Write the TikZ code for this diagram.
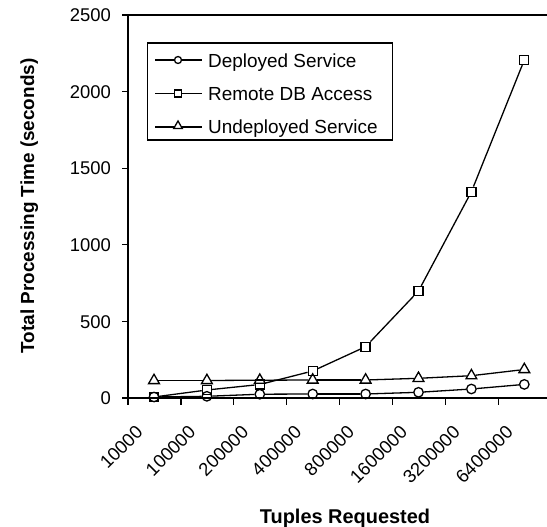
\documentclass[tikz,border=0pt]{standalone}
\usepackage{fontspec}
\setmainfont{Liberation Sans}
\usetikzlibrary{shapes.geometric}
\begin{document}
\begin{tikzpicture}[x=1bp,y=-1bp,
  lw/.style={line width=1.3bp},
  mcirc/.style={draw, circle, lw, inner sep=0pt, minimum size=9.5bp},
  msq/.style={draw, rectangle, lw, inner sep=0pt, minimum size=9bp},
  mtri/.style={draw, regular polygon, regular polygon sides=3, lw, inner sep=0pt, minimum size=12.5bp},
  lcirc/.style={mcirc, minimum size=7bp},
  lsq/.style={msq, minimum size=7bp},
  ltri/.style={mtri, minimum size=10bp},
  ticklab/.style={font=\fontsize{18.5}{20}\selectfont, inner sep=0pt},
  ttl/.style={font=\fontsize{20}{22}\selectfont\bfseries, inner sep=0pt},
  legtext/.style={font=\fontsize{19}{21}\selectfont, inner sep=0pt, anchor=base west},
]
\useasboundingbox (0,0) rectangle (547,527);
% axes
\coordinate (o) at (128,398);
\coordinate (tl) at (128,15);
\coordinate (tr) at (547,15);
\coordinate (br) at (547,398);
\draw[lw] (tr) -- (tl) -- (o) -- (br);
% y ticks
\foreach \v/\yy in {0/398, 500/321.4, 1000/244.8, 1500/168.2, 2000/91.6, 2500/15} {
  \coordinate (yt\v) at (122,\yy);
  \draw[lw] (yt\v) -- ++(6,0);
  \node[ticklab, anchor=base east] (yl\v) at (111,\yy+6.6) {\v};
}
% x ticks
\foreach \i in {0,...,7} {
  \coordinate (xt\i) at ({128+52.9*\i},398);
  \draw[lw] (xt\i) -- ++(0,7);
}
\foreach \lab [count=\i from 0] in {10000,100000,200000,400000,800000,1600000,3200000,6400000} {
  \node[ticklab, rotate=45, anchor=east] (xl\i) at ({154+52.9*\i-14.5},429) {\lab};
}
% axis titles
\node[ttl, font=\fontsize{19}{21}\selectfont\bfseries, rotate=90, anchor=base] (ytitle) at (34,206) {Total Processing Time (seconds)};
\node[ttl, anchor=base] (xtitle) at (345,523) {Tuples Requested};
% data
\foreach \yy [count=\i from 0] in {397,396.3,394.2,394,394,392.3,389,384.4}
  \node[mcirc] (c\i) at ({154+52.9*\i},\yy) {};
\foreach \yy [count=\i from 0] in {397,390,384.5,371,346.7,291,191.7,60}
  \node[msq] (s\i) at ({154+52.9*\i},\yy) {};
\foreach \yy [count=\i from 0] in {380.5,380.5,380.2,380,380,378.3,375.7,369.5}
  \node[mtri] (t\i) at ({154+52.9*\i},\yy) {};
\foreach \i [remember=\i as \j (initially 0)] in {1,...,7} {
  \draw[lw] (c\j) -- (c\i);
  \draw[lw] (s\j) -- (s\i);
  \draw[lw] (t\j) -- (t\i);
}
% legend
\node[draw, lw, inner sep=0pt, minimum width=245bp, minimum height=97bp] (legend) at (270,91.5) {};
\coordinate (la1) at (155,60);   \coordinate (lb1) at (202,60);
\coordinate (la2) at (155,93.5); \coordinate (lb2) at (202,93.5);
\coordinate (la3) at (155,127);  \coordinate (lb3) at (202,127);
\draw[lw] (la1) -- (lb1);
\draw[lw] (la2) -- (lb2);
\draw[lw] (la3) -- (lb3);
\node[lcirc, fill=white] (lm1) at (178,60) {};
\node[lsq, fill=white] (lm2) at (178,93.5) {};
\node[ltri, fill=white] (lm3) at (178,126) {};
\node[legtext] (lt1) at (208,67.3) {Deployed Service};
\node[legtext] (lt2) at (208,100.7) {Remote DB Access};
\node[legtext] (lt3) at (208,134) {Undeployed Service};
\end{tikzpicture}
\end{document}
